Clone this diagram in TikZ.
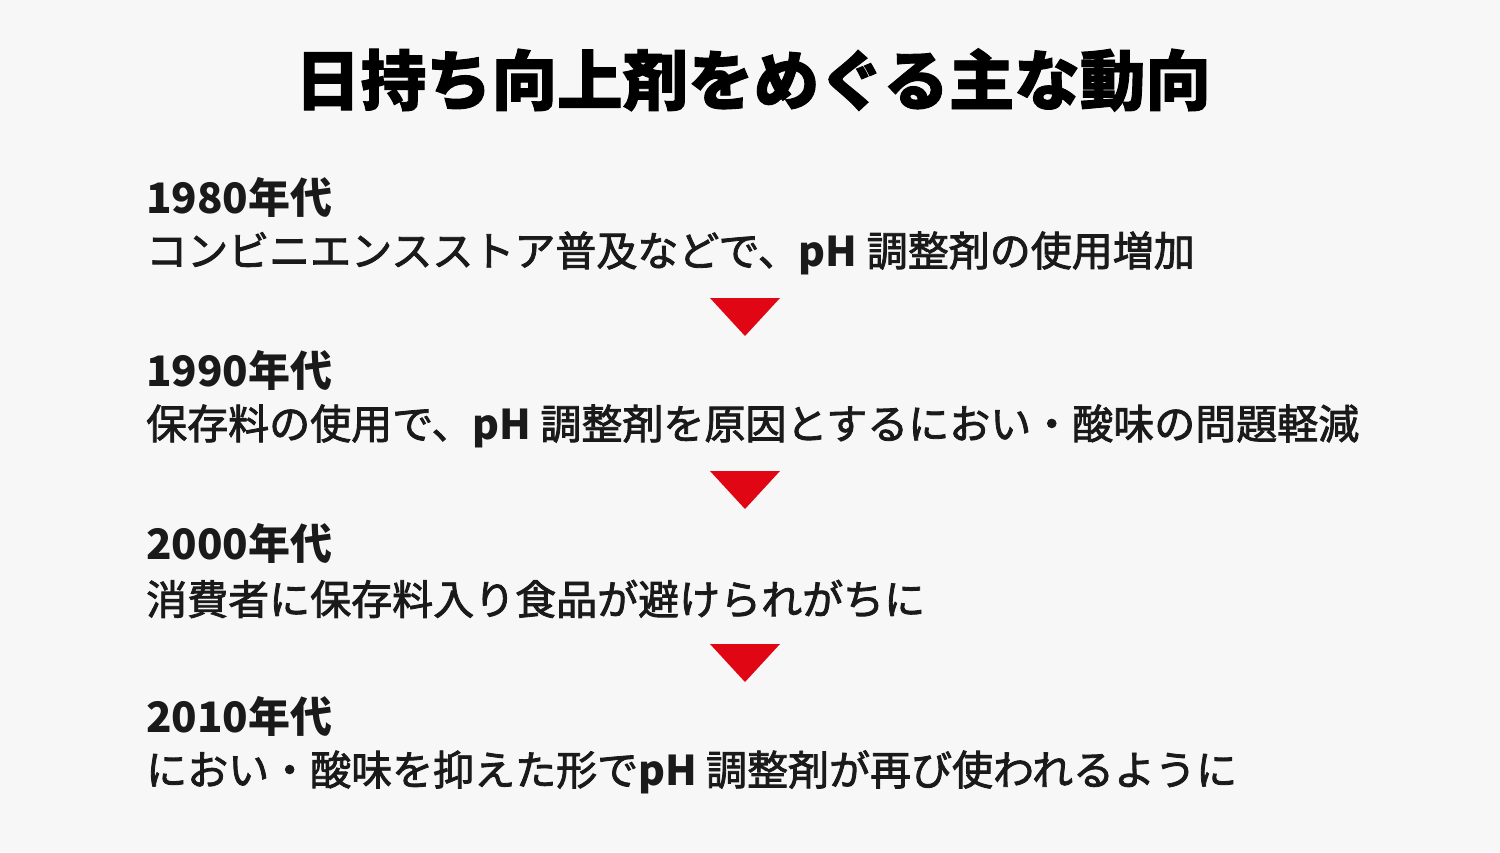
\documentclass[tikz,border=0pt]{standalone}
\usepackage{fontspec}
\setmainfont{Noto Sans CJK JP}
\newfontfamily\jp{Noto Sans CJK JP}
\newfontfamily\jpbody[FakeBold=2]{Noto Sans CJK JP}
\newfontfamily\jptitle[BoldFeatures={FakeBold=1.4}]{Noto Sans CJK JP}
\definecolor{bgc}{HTML}{F7F7F7}
\definecolor{txt}{HTML}{1A1A1A}
\definecolor{arr}{HTML}{E10613}
\begin{document}
\begin{tikzpicture}[x=1pt,y=-1pt,
  ttl/.style={inner sep=0pt,font=\jptitle\bfseries\fontsize{65.5}{65}\selectfont,text=black},
  era/.style={anchor=west,inner sep=0pt,font=\jp\bfseries\fontsize{42}{42}\selectfont,text=txt},
  body/.style={anchor=west,inner sep=0pt,font=\jpbody\fontsize{41}{41}\selectfont,text=txt},
  tri/.style={fill=arr}]
\fill[bgc] (0,0) rectangle (1500,852);
\useasboundingbox (0,0) rectangle (1500,852);
\node[ttl] (title) at (753,80) {日持ち向上剤をめぐる主な動向};
\node[era] (e1) at (146,197) {1980年代};
\node[body] (b1) at (146,253) {コンビニエンスストア普及などで、{\jp\bfseries pH} 調整剤の使用増加};
\node[era] (e2) at (146,370) {1990年代};
\node[body] (b2) at (146,426) {保存料の使用で、{\jp\bfseries pH} 調整剤を原因とするにおい・酸味の問題軽減};
\node[era] (e3) at (146,543) {2000年代};
\node[body] (b3) at (146,599) {消費者に保存料入り食品が避けられがちに};
\node[era] (e4) at (146,716) {2010年代};
\node[body] (b4) at (146,772) {におい・酸味を抑えた形で{\jp\bfseries pH} 調整剤が再び使われるように};
\foreach \i/\y in {1/298,2/471,3/644}{
  \coordinate (a\i) at (745,\y);
  \fill[tri] ([xshift=-35pt]a\i) -- ([xshift=35pt]a\i) -- ([yshift=-38pt]a\i) -- cycle;
}
\end{tikzpicture}
\end{document}
